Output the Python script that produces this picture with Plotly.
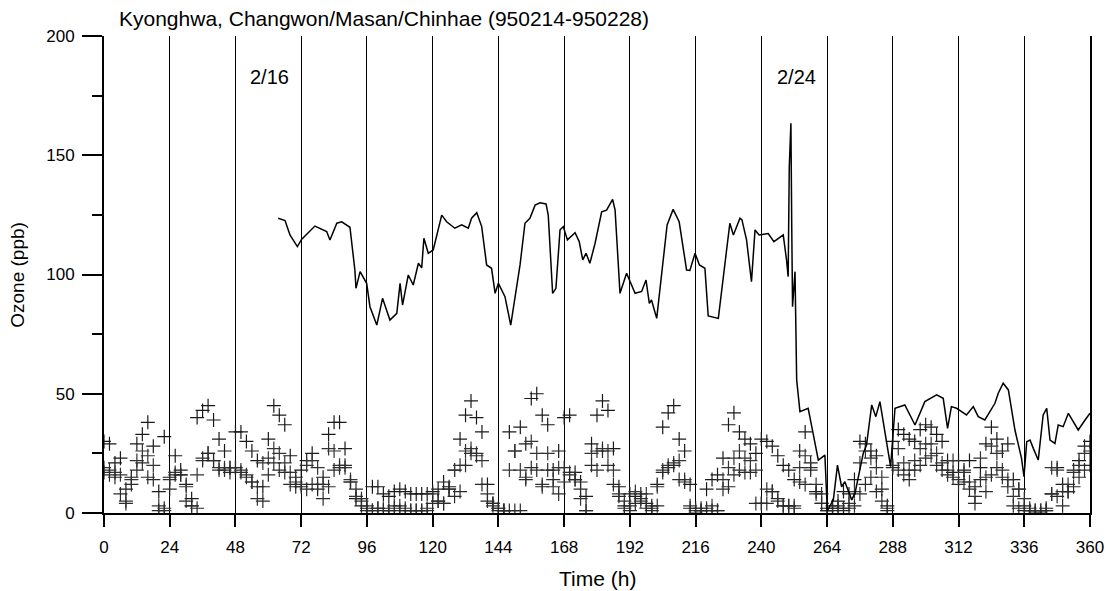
import plotly.graph_objects as go

# Kyonghwa ozone (continuous trace), hours since 95-02-14 00h
kyonghwa_hours = [63.6, 66.1, 67.9, 70.6, 72.2, 77.0, 81.3, 82.5, 85.0, 86.8, 89.8, 91.6, 92.0, 93.5,
                  95.9, 97.1, 99.6, 101.7, 104.4, 106.9, 108.1, 109.0, 111.1, 112.9, 114.8, 116.0,
                  116.8, 118.4, 120.2, 123.3, 125.1, 128.1, 130.6, 133.0, 134.2, 136.1, 137.9, 139.7,
                  141.5, 142.8, 144.0, 146.4, 148.5, 150.7, 151.9, 153.7, 155.5, 157.4, 159.2, 161.4,
                  162.2, 163.8, 165.0, 166.5, 167.7, 169.2, 172.0, 173.5, 174.8, 176.0, 177.4, 179.3,
                  181.7, 183.5, 185.7, 186.6, 188.4, 190.8, 192.0, 193.9, 196.3, 197.9, 199.1, 199.9,
                  201.8, 203.6, 205.6, 207.8, 210.0, 212.7, 213.9, 215.8, 217.4, 219.4, 220.6, 224.3,
                  227.9, 228.5, 229.8, 232.2, 232.9, 234.6, 236.4, 237.7, 239.2, 242.5, 244.6, 246.6,
                  248.0, 249.2, 249.8, 250.2, 250.8, 251.1, 251.4, 252.3, 252.9, 254.1, 257.1, 258.9,
                  260.8, 263.2, 264.1, 266.3, 267.8, 269.3, 270.5, 273.0, 274.2, 277.2, 278.4, 280.3,
                  281.8, 283.3, 284.5, 286.3, 287.2, 288.8, 292.4, 296.1, 299.7, 304.0, 306.4, 308.0,
                  309.4, 311.3, 313.1, 314.9, 317.4, 319.2, 321.6, 325.3, 326.5, 328.3, 330.2, 332.6,
                  335.0, 335.9, 336.9, 338.1, 339.3, 341.1, 342.9, 344.2, 345.4, 347.2, 348.4, 350.2,
                  352.1, 355.7, 358.2, 360.0]
kyonghwa_ozone = [123.6, 122.6, 116.6, 111.7, 114.8, 120.3, 118.0, 114.5, 121.5, 122.1, 119.8, 101.9, 94.2, 101.2,
                  96.3, 86.5, 78.8, 90.0, 80.9, 83.7, 96.3, 87.2, 99.8, 95.6, 104.7, 102.8,
                  115.2, 108.9, 110.3, 124.9, 122.1, 119.4, 120.8, 119.4, 123.6, 125.9, 120.1, 104.0,
                  102.6, 92.1, 96.3, 90.7, 78.8, 96.3, 104.0, 121.5, 123.6, 129.1, 130.1, 129.6,
                  124.9, 92.1, 94.2, 118.7, 120.1, 114.5, 117.5, 113.8, 106.1, 108.9, 104.7, 113.1,
                  126.3, 127.0, 131.5, 127.0, 92.1, 100.5, 97.0, 92.1, 92.9, 97.7, 87.9, 89.3,
                  81.6, 99.8, 120.8, 127.3, 122.1, 101.9, 101.7, 108.9, 104.0, 102.6, 82.6, 81.6,
                  117.3, 121.5, 116.6, 123.6, 123.0, 114.5, 97.0, 118.7, 116.6, 117.2, 113.8, 115.5,
                  116.6, 106.1, 99.1, 145.2, 163.4, 120.0, 86.5, 101.2, 55.8, 42.5, 43.9, 33.4,
                  22.2, 24.3, 1.0, 5.5, 20.1, 11.0, 13.1, 5.5, 8.3, 25.0, 28.5, 45.3,
                  40.4, 46.7, 37.6, 25.7, 19.4, 43.9, 45.3, 36.9, 46.7, 49.5, 48.1, 35.5,
                  44.6, 43.9, 42.5, 41.1, 44.6, 40.4, 39.0, 46.0, 50.2, 54.4, 51.6, 34.8,
                  22.9, 15.2, 29.9, 30.6, 27.1, 22.2, 41.1, 43.9, 30.6, 29.2, 36.9, 36.2,
                  41.8, 34.8, 39.0, 41.8]

# Two-hourly surface ozone at the Changwon / Masan / Chinhae sites
site_hours = list(range(0, 361, 2))
changwon = [30, 29, 21, 23, 10, 15, 29, 33, 38, 28, 9, 32,
            15, 24, 18, 12, 6, 40, 43, 45, 39, 31, 26, 19,
            34, 34, 30, 26, 22, 11, 31, 45, 41, 37, 24, 15,
            18, 22, 25, 10, 15, 33, 38, 38, 27, 13, 6, 3,
            2, 11, 11, 8, 7, 9, 10, 9, 8, 8, 8, 8,
            9, 10, 13, 11, 18, 31, 41, 47, 40, 34, 12, 4,
            2, 1, 34, 26, 36, 29, 48, 50, 41, 37, 18, 26,
            40, 41, 17, 13, 7, 29, 41, 47, 43, 27, 11, 3,
            8, 7, 8, 4, 3, 12, 36, 42, 45, 31, 26, 12,
            2, 1, 10, 14, 16, 23, 37, 42, 34, 31, 29, 25,
            31, 30, 28, 24, 20, 18, 14, 26, 34, 21, 9, 4,
            2, 3, 5, 9, 8, 14, 30, 29, 26, 24, 10, 3,
            30, 35, 33, 31, 30, 35, 37, 36, 33, 30, 22, 17,
            22, 18, 22, 11, 19, 29, 36, 31, 26, 29, 14, 10,
            3, 1, 1, 1, 2, 8, 19, 12, 9, 18, 22, 28,
            30]
masan = [19, 18, 17, 16, 5, 14, 22, 26, 24, 20, 3, 2,
         14, 17, 16, 11, 3, 16, 23, 25, 22, 19, 19, 19,
         19, 18, 16, 13, 6, 21, 23, 27, 25, 21, 17, 13,
         12, 20, 22, 19, 12, 27, 26, 20, 19, 14, 7, 5,
         3, 1, 2, 2, 1, 2, 3, 2, 1, 1, 1, 2,
         8, 5, 4, 10, 18, 20, 26, 27, 25, 22, 8, 3,
         2, 1, 18, 26, 18, 15, 30, 25, 12, 25, 11, 19,
         19, 17, 14, 6, 1, 25, 26, 27, 26, 18, 8, 5,
         3, 9, 5, 8, 2, 11, 18, 20, 21, 22, 14, 3,
         1, 2, 2, 3, 1, 14, 19, 23, 26, 23, 22, 18,
         4, 10, 9, 5, 3, 3, 3, 19, 24, 19, 12, 8,
         1, 2, 3, 2, 4, 9, 21, 26, 23, 19, 15, 2,
         20, 27, 21, 18, 22, 27, 29, 29, 25, 21, 18, 22,
         14, 17, 13, 7, 23, 15, 28, 25, 18, 14, 7, 10,
         6, 2, 1, 1, 1, 19, 18, 9, 12, 17, 20, 25,
         26]
chinhae = [17, 16, 15, 8, 4, 12, 18, 21, 15, 14, 1, 1,
           10, 16, 16, 5, 3, 2, 22, 25, 22, 18, 18, 17,
           19, 17, 15, 13, 11, 5, 16, 21, 18, 17, 12, 11,
           11, 10, 12, 12, 6, 11, 18, 19, 20, 13, 10, 6,
           1, 1, 2, 1, 1, 3, 1, 1, 1, 1, 1, 1,
           4, 5, 4, 10, 7, 9, 20, 25, 24, 12, 5, 4,
           1, 1, 1, 1, 1, 14, 19, 18, 11, 18, 14, 8,
           13, 16, 14, 10, 1, 20, 18, 26, 20, 12, 7, 2,
           1, 4, 6, 2, 1, 3, 17, 19, 20, 14, 13, 2,
           0, 1, 1, 1, 1, 10, 11, 16, 18, 17, 17, 4,
           4, 4, 9, 6, 3, 3, 2, 13, 12, 18, 8, 4,
           1, 1, 2, 1, 2, 3, 8, 12, 15, 9, 5, 1,
           19, 18, 16, 14, 18, 20, 23, 24, 20, 18, 16, 15,
           12, 13, 10, 4, 14, 9, 16, 19, 15, 11, 3, 2,
           1, 1, 0, 0, 1, 8, 7, 3, 9, 11, 15, 18,
           20]

x_ticks = list(range(0, 361, 24))
y_ticks = [0, 50, 100, 150, 200]
date_marks = [(60.6, "2/16"), (252.8, "2/24")]

FONT = "Liberation Sans, Arial, sans-serif"

fig = go.Figure()

for name, vals, col in [("Changwon", changwon, "#1a1a1a"),
                        ("Masan", masan, "#333333"),
                        ("Chinhae", chinhae, "#2a2a2a")]:
    fig.add_trace(go.Scatter(
        x=site_hours, y=vals, mode="markers", name=name,
        marker=dict(symbol="cross-thin", size=10, line=dict(width=1.2, color=col)),
    ))

fig.add_trace(go.Scatter(
    x=kyonghwa_hours, y=kyonghwa_ozone, mode="lines", name="Kyonghwa",
    line=dict(color="black", width=1.5),
))

fig.update_layout(
    width=1119, height=591,
    margin=dict(l=104, r=29, t=36, b=78),
    paper_bgcolor="white", plot_bgcolor="white",
    showlegend=False,
    font=dict(family=FONT, color="black"),
    xaxis=dict(
        range=[0, 360], tickvals=x_ticks, ticktext=[str(v) for v in x_ticks],
        showgrid=True, gridcolor="black", gridwidth=1.4,
        showline=True, linecolor="black", linewidth=1.5,
        ticks="outside", ticklen=12, tickwidth=1.5, tickcolor="black",
        tickfont=dict(size=17), ticklabelstandoff=6, zeroline=False,
    ),
    yaxis=dict(
        range=[0, 200], tickvals=y_ticks,
        showgrid=False, zeroline=False,
        showline=True, linecolor="black", linewidth=2, mirror=True,
        ticks="outside", ticklen=20, tickwidth=1.5, tickcolor="black",
        tickfont=dict(size=17), ticklabelstandoff=4,
        minor=dict(tickvals=[25, 75, 125, 175], ticks="outside", ticklen=10,
                   tickwidth=1.5, tickcolor="black"),
    ),
)

annotations = [
    dict(text="Kyonghwa, Changwon/Masan/Chinhae (950214-950228)", xref="paper", yref="paper",
         x=(117 - 104) / 986, y=1 + (36 - 18) / 477, xanchor="left", yanchor="middle",
         showarrow=False, font=dict(size=21)),
    dict(text="Ozone (ppb)", xref="paper", yref="paper", x=-0.088, y=0.5,
         textangle=-90, xanchor="center", yanchor="middle", showarrow=False,
         font=dict(size=19)),
    dict(text="Time (h)", xref="paper", yref="paper", x=0.5, y=-(578 - 513) / 477,
         xanchor="center", yanchor="middle", showarrow=False, font=dict(size=21)),
]
for hx, label in date_marks:
    annotations.append(dict(text=label, x=hx, y=183, xref="x", yref="y",
                            showarrow=False, font=dict(size=20)))
fig.update_layout(annotations=annotations)

fig.write_html("out.html")
